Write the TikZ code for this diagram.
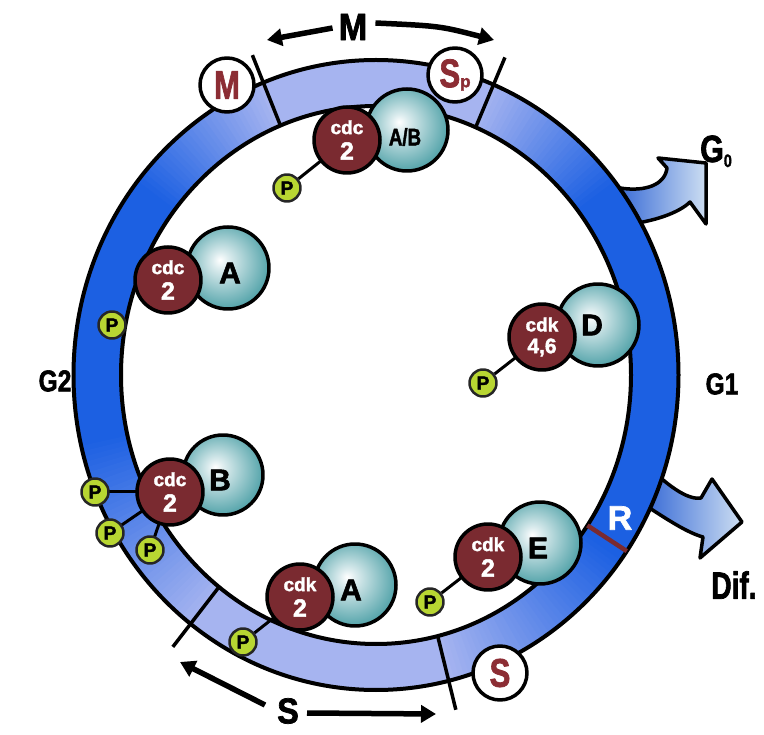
\documentclass[tikz,border=0pt]{standalone}
\usepackage{fontspec}
\setmainfont{Liberation Sans}[BoldFeatures={FakeBold=2}]
\usetikzlibrary{arrows.meta}

\definecolor{ringlight}{RGB}{166,180,240}
\definecolor{ringdark}{RGB}{28,96,226}
\definecolor{kinasered}{RGB}{122,42,48}
\definecolor{cycl}{RGB}{220,236,238}
\definecolor{cycm}{RGB}{92,168,174}
\definecolor{cycd}{RGB}{30,118,124}
\definecolor{phosgreen}{RGB}{184,214,50}
\definecolor{phaseletter}{RGB}{140,45,52}
\definecolor{arrowdark}{RGB}{60,110,215}
\definecolor{arrowlight}{RGB}{205,222,242}

\pgfdeclareradialshading{cyclinball}{\pgfpoint{-5bp}{5bp}}{color(0bp)=(white); color(5bp)=(cycl); color(26bp)=(cycm); color(50bp)=(cycd)}

\newcommand\setfs[1]{\fontsize{#1}{#1}\selectfont}

\begin{document}
\begin{tikzpicture}[x=1pt, y=-1pt, line join=round, font=\bfseries,
  kinase/.style={circle, fill=kinasered, draw=black, line width=3.5pt, minimum size=66pt,
    inner sep=0pt, text=white, align=center},
  cyclin/.style={circle, shading=cyclinball, draw=black, line width=3.5pt, minimum size=82pt, inner sep=0pt},
  cyclabel/.style={font=\bfseries\setfs{30}, inner sep=0pt},
  phos/.style={circle, fill=phosgreen, draw=black!85, line width=2.5pt, minimum size=27pt, inner sep=0pt,
    font=\bfseries\setfs{19}},
  phasemark/.style={circle, fill=white, draw=black, line width=3.5pt, minimum size=54pt, inner sep=0pt,
    text=phaseletter},
  link/.style={line width=3pt, draw=black},
  bigarrow/.style={draw=black, line width=3.5pt, left color=arrowdark, right color=arrowlight},
  travel/.style={line width=5.5pt, -{Triangle[length=15pt,width=17pt]}},
  cutline/.style={line width=3.5pt, draw=black},
  biglabel/.style={inner sep=0pt}
]
\useasboundingbox (0,0) rectangle (764,735);

% exit arrows leaving the cycle (drawn first so the ring covers their base)
\path[bigarrow] (620,188) .. controls (645,192) and (665,185) .. (667,168) -- (658,158)
  -- (706,163) -- (706,224) -- (690,202) .. controls (680,212) and (655,222) .. (622,225) -- cycle;
\path[bigarrow] (648,466) .. controls (672,490) and (690,500) .. (701,498) -- (712,479)
  -- (742,522) -- (700,558) -- (703,537) .. controls (688,533) and (668,520) .. (648,507) -- cycle;

% the ring, coloured by phase
\coordinate (ctr) at (376,375);
\foreach \th in {0,1,...,359}{
  \pgfmathsetmacro\La{max(0,1-max(0,67-\th,\th-112)/30)}
  \pgfmathsetmacro\Lb{max(0,1-max(0,232-\th,\th-284)/40)}
  \pgfmathtruncatemacro\p{100*max(\La,\Lb)}
  \fill[ringlight!\p!ringdark]
    ([shift={(ctr)}]-\th:302.5 and 315) arc[start angle=-\th, delta angle=-1.4, x radius=302.5, y radius=315]
    -- ([shift={(ctr)}]-\th-1.4:255 and 269) arc[start angle=-\th-1.4, delta angle=1.4, x radius=255, y radius=269]
    -- cycle;
}
\draw[line width=4pt] (ctr) ellipse[x radius=302.5, y radius=315];
\draw[line width=4pt] (ctr) ellipse[x radius=255, y radius=269];

% phase boundaries
\draw[cutline] ([shift={(ctr)}]-112:255 and 269) -- ([shift={(ctr)}]-112:330 and 345);
\draw[cutline] ([shift={(ctr)}]-67:255 and 269) -- ([shift={(ctr)}]-67:330 and 345);
\draw[cutline] ([shift={(ctr)}]-232:255 and 269) -- ([shift={(ctr)}]-232:330 and 345);
\draw[cutline] ([shift={(ctr)}]-284:255 and 269) -- ([shift={(ctr)}]-284:330 and 345);
\draw[line width=4.5pt, draw=kinasered] ([shift={(ctr)}]-326:255 and 269) -- ([shift={(ctr)}]-326:302.5 and 315);
\node[biglabel, text=white, font=\bfseries\setfs{34}] (rpoint) at (620,518) {R};

% phase markers on the ring
\node[phasemark, font=\bfseries\setfs{40}] (mphase) at (227,85) {\scalebox{.78}[1]{M}};
\node[phasemark, font=\bfseries\setfs{40}] (spphase) at (455,75) {\scalebox{.78}[1]{S}\setfs{17}p};
\node[phasemark, font=\bfseries\setfs{40}] (sphase) at (500,673) {\scalebox{.78}[1]{S}};

% complex: cdc2 / cyclin A/B (top)
\node[cyclin] (cycAB) at (407,130) {};
\node[phos] (pAB) at (287,188) {P};
\draw[link] (pAB) -- (347,140);
\node[kinase] (kAB) at (347,140) {\setfs{19}cdc\\[7pt]\setfs{25}2};
\node[cyclabel, font=\bfseries\setfs{24}] (lAB) at (405,137) {\scalebox{.78}[1]{A/B}};

% complex: cdc2 / cyclin A (upper left)
\node[cyclin] (cycA1) at (228,268) {};
\node[kinase] (kA1) at (168,280) {\setfs{19}cdc\\[7pt]\setfs{25}2};
\node[phos] (pA1) at (112,325) {P};
\node[cyclabel] (lA1) at (230,273) {A};

% complex: cdk4,6 / cyclin D (right)
\node[cyclin] (cycD) at (598,325) {};
\node[phos] (pD) at (483,383) {P};
\draw[link] (pD) -- (542,337);
\node[kinase] (kD) at (542,337) {\setfs{19}cdk\\[6pt]\setfs{21}4,6};
\node[cyclabel] (lD) at (592,325) {D};

% complex: cdc2 / cyclin B (lower left)
\node[cyclin, minimum size=80pt] (cycB) at (223,475) {};
\coordinate (kBc) at (170,492);
\draw[link] (95,492) -- (kBc);
\draw[link] (110,533) -- (kBc);
\draw[link] (150,550) -- (kBc);
\node[kinase] (kB) at (kBc) {\setfs{19}cdc\\[7pt]\setfs{25}2};
\node[phos] (pB1) at (95,492) {P};
\node[phos] (pB2) at (110,533) {P};
\node[phos] (pB3) at (150,550) {P};
\node[cyclabel] (lB) at (220,480) {B};

% complex: cdk2 / cyclin A (bottom)
\node[cyclin] (cycA2) at (355,585) {};
\node[phos] (pA2) at (243,642) {P};
\draw[link] (pA2) -- (300,597);
\node[kinase] (kA2) at (300,597) {\setfs{19}cdk\\[7pt]\setfs{25}2};
\node[cyclabel] (lA2) at (351,590) {A};

% complex: cdk2 / cyclin E (lower right)
\node[cyclin] (cycE) at (540,543) {};
\node[phos] (pE) at (430,602) {P};
\draw[link] (pE) -- (488,557);
\node[kinase] (kE) at (488,557) {\setfs{19}cdk\\[7pt]\setfs{25}2};
\node[cyclabel] (lE) at (538,548) {E};

% phase names and exits
\node[biglabel, font=\bfseries\setfs{30}] (gtwo) at (55,381) {\scalebox{.82}[1]{G2}};
\node[biglabel, font=\bfseries\setfs{30}] (gone) at (722,384) {\scalebox{.82}[1]{G1}};
\node[biglabel, font=\bfseries\setfs{38}, anchor=base west] (gzero) at (700,162) {\scalebox{.8}[1]{G}\raisebox{-5pt}{\setfs{18}\scalebox{.8}[1]{0}}};
\node[biglabel, font=\bfseries\setfs{38}] (dif) at (734,585) {\scalebox{.74}[1]{Dif.}};

% duration arrows of M and S
\node[biglabel, font=\bfseries\setfs{38}] (mlabel) at (353,27) {\scalebox{.9}[1]{M}};
\coordinate (mleft) at (267,40);
\coordinate (mright) at (494,40);
\draw[travel] (mlabel.west) ++(-6,1) -- (mleft);
\draw[travel] (mlabel.east) ++(8,-4) .. controls (440,26) .. (mright);
\node[biglabel, font=\bfseries\setfs{36}] (slabel) at (288,711) {\scalebox{.9}[1]{S}};
\coordinate (sleft) at (180,662);
\coordinate (sright) at (436,714);
\draw[travel] (slabel.west) ++(-12,-6) -- (sleft);
\draw[travel] (slabel.east) ++(8,2) -- (sright);
\end{tikzpicture}
\end{document}
